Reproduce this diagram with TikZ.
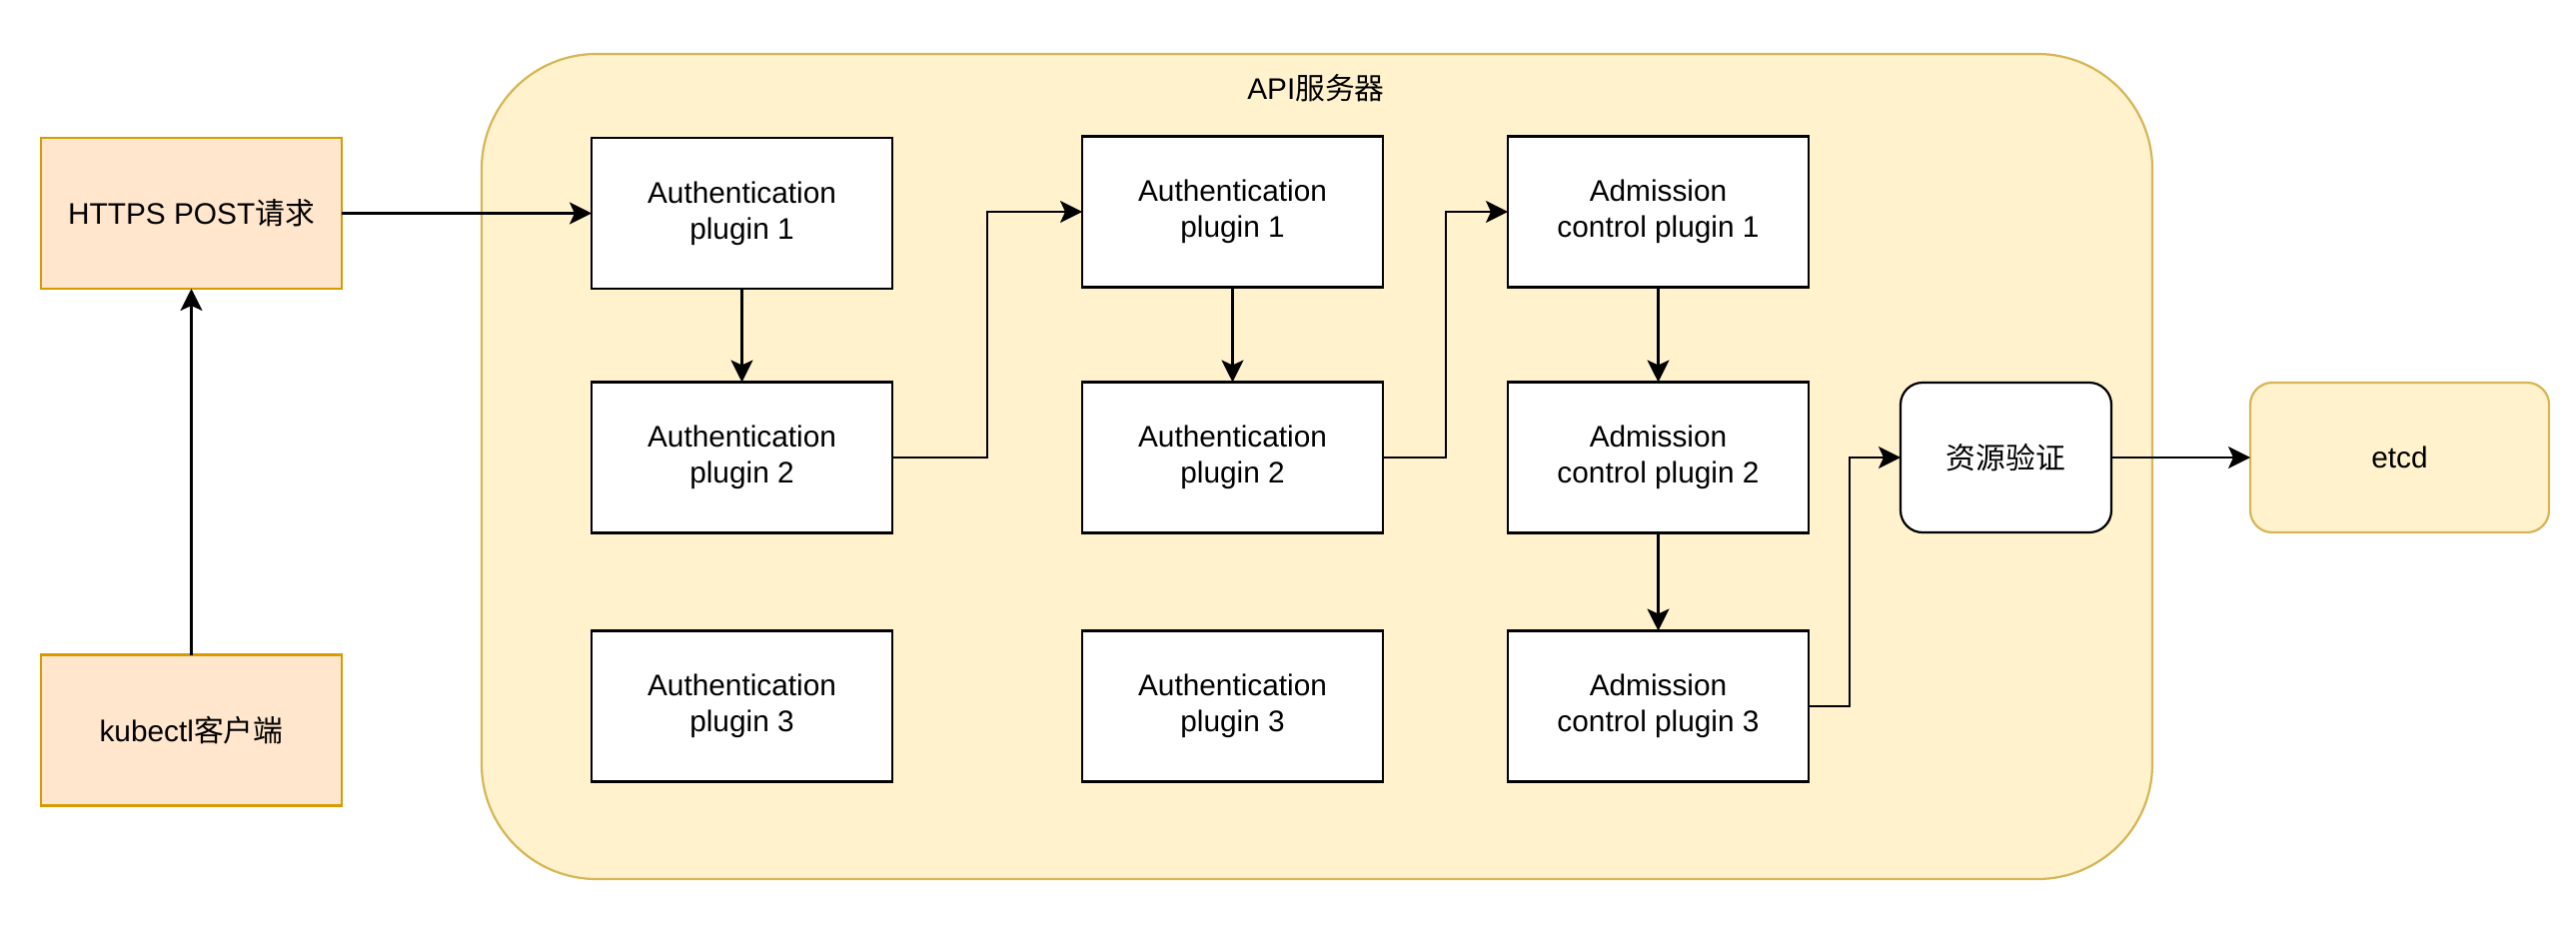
\documentclass[tikz,border=0pt]{standalone}
\usepackage{fontspec}
\setmainfont{Liberation Sans}
\newfontfamily\cjk{Noto Sans CJK SC}
\usetikzlibrary{arrows.meta}
\definecolor{yfill}{HTML}{FFF2CC}
\definecolor{ystroke}{HTML}{D6B656}
\definecolor{ofill}{HTML}{FFE6CC}
\definecolor{ostroke}{HTML}{D79B00}
\begin{document}
\begin{tikzpicture}[x=1pt,y=-1pt,
  every node/.style={font=\fontsize{29.8pt}{36pt}\selectfont, align=center, inner sep=0pt, outer sep=0pt},
  plug/.style={draw=black, line width=2.2pt, fill=white, minimum width=301pt, minimum height=151pt},
  orange/.style={draw=ostroke, line width=2.2pt, fill=ofill, minimum width=301pt, minimum height=151pt},
  arr/.style={line width=2.2pt, -{Stealth[length=22pt,width=22pt,inset=5pt]}}]
\useasboundingbox (0,0) rectangle (2578,927);
\node[draw=ystroke, fill=yfill, line width=2.2pt, rounded corners=115pt, minimum width=1672pt, minimum height=826pt] (server) at (1318,467) {};
\node (servername) at (1317,88) {API\cjk 服务器};
\node[orange] (http) at (191.5,213.5) {HTTPS POST{\cjk 请求}};
\node[orange] (kube) at (191.5,731) {kubectl{\cjk 客户端}};
\node[plug] (a1) at (742.5,213.5) {Authentication\\plugin 1};
\node[plug] (a2) at (742.5,458) {Authentication\\plugin 2};
\node[plug] (a3) at (742.5,707) {Authentication\\plugin 3};
\node[plug] (b1) at (1233.5,212) {Authentication\\plugin 1};
\node[plug] (b2) at (1233.5,458) {Authentication\\plugin 2};
\node[plug] (b3) at (1233.5,707) {Authentication\\plugin 3};
\node[plug] (c1) at (1659.5,212) {Admission\\control plugin 1};
\node[plug] (c2) at (1659.5,458) {Admission\\control plugin 2};
\node[plug] (c3) at (1659.5,707) {Admission\\control plugin 3};
\node[draw=black, fill=white, line width=2.2pt, rounded corners=22pt, minimum width=211pt, minimum height=150pt] (valid) at (2007.5,458) {\cjk 资源验证};
\node[draw=ystroke, fill=yfill, line width=2.2pt, rounded corners=22pt, minimum width=299pt, minimum height=150pt] (etcd) at (2401.5,458) {etcd};
\draw[arr] (http.east) -- (http.east -| a1.west);
\draw[arr] (kube) -- (http);
\draw[arr] (a1) -- (a2);
\draw[arr] (a2.east) -- ++(95,0) |- (b1.west);
\draw[arr] (b1) -- (b2);
\draw[arr] (b2.east) -- ++(63,0) |- (c1.west);
\draw[arr] (c1) -- (c2);
\draw[arr] (c2) -- (c3);
\draw[arr] (c3.east) -- ++(41,0) |- (valid.west);
\draw[arr] (valid) -- (etcd);
\end{tikzpicture}
\end{document}
